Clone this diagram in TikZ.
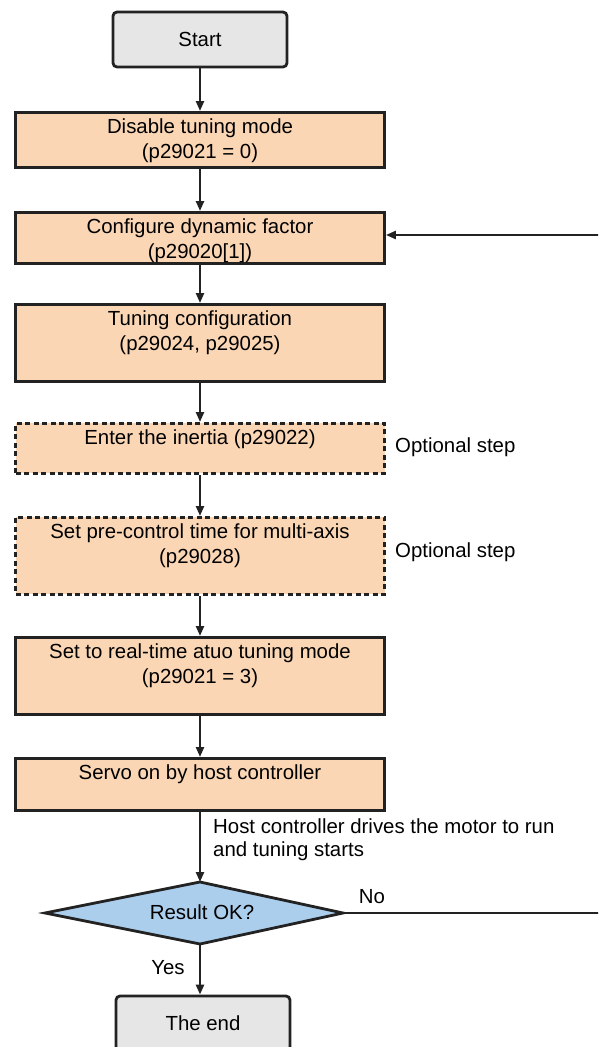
\documentclass[tikz,border=0pt]{standalone}
\usepackage{fontspec}
\setmainfont{Liberation Sans}
\usetikzlibrary{arrows.meta}
\definecolor{peach}{RGB}{251,214,181}
\definecolor{greyfill}{RGB}{230,230,230}
\definecolor{bluefill}{RGB}{172,206,237}
\definecolor{ink}{RGB}{34,34,34}
\newcommand{\btext}[2]{\parbox[c][#1][t]{369pt}{\centering\rule{0pt}{21pt}#2}}
\begin{document}
\begin{tikzpicture}[x=1pt,y=-1pt,font=\fontsize{20.4}{25}\selectfont,
  proc/.style={draw=ink,line width=2.8pt,fill=peach,inner sep=0pt,anchor=north},
  optproc/.style={proc,dash pattern=on 5pt off 3.5pt},
  term/.style={draw=ink,line width=2.8pt,fill=greyfill,rounded corners=4pt,minimum width=174pt,minimum height=55pt,inner sep=0pt},
  conn/.style={draw=ink,line width=2.4pt,-{Triangle[length=10pt,width=8pt]}},
  plainline/.style={draw=ink,line width=2.4pt},
  lbl/.style={inner sep=0pt}]
\useasboundingbox (0,0) rectangle (598,1047);
\clip (0,0) rectangle (598,1047);

\node[term] (start) at (200,39.5) {Start};
\node[proc] (disable) at (200,111) {\btext{55pt}{Disable tuning mode\\(p29021 = 0)}};
\node[proc] (config) at (200,211) {\btext{51pt}{Configure dynamic factor\\(p29020[1])}};
\node[proc] (tuning) at (200,303) {\btext{77pt}{Tuning configuration\\(p29024, p29025)}};
\node[optproc] (inertia) at (200,422) {\btext{50pt}{Enter the inertia (p29022)}};
\node[optproc] (precontrol) at (200,516) {\btext{77pt}{Set pre-control time for multi-axis\\(p29028)}};
\node[proc] (realtime) at (200,636) {\btext{77pt}{Set to real-time atuo tuning mode\\(p29021 = 3)}};
\node[proc] (servo) at (200,757) {\btext{52pt}{Servo on by host controller}};

\coordinate (dT) at (200,882);
\coordinate (dR) at (343,913);
\coordinate (dB) at (200,944);
\coordinate (dL) at (45,913);
\draw[draw=ink,line width=2.8pt,fill=bluefill] (dT) -- (dR) -- (dB) -- (dL) -- cycle;
\node[lbl] (dec) at (202,912) {Result OK?};

\node[term] (theend) at (203,1023.5) {The end};

\node[lbl,anchor=west] (opt1) at (395,447) {Optional step};
\node[lbl,anchor=west] (opt2) at (395,552) {Optional step};
\node[lbl,anchor=north west,align=left,font=\fontsize{20.4}{23}\selectfont] (host) at (213,819) {Host controller drives the motor to run\\and tuning starts};
\node[lbl] (no) at (372,897) {No};
\node[lbl] (yes) at (168,968) {Yes};

\draw[conn] (start.south) -- (disable.north);
\draw[conn] (disable.south) -- (config.north);
\draw[conn] (config.south) -- (tuning.north);
\draw[conn] (tuning.south) -- (inertia.north);
\draw[conn] (inertia.south) -- (precontrol.north);
\draw[conn] (precontrol.south) -- (realtime.north);
\draw[conn] (realtime.south) -- (servo.north);
\draw[conn] (servo.south) -- (dT);
\draw[conn] (dB) -- (dB |- theend.north);

\coordinate (fbin) at (602,235);
\draw[conn] (fbin) -- (fbin -| config.east);
\coordinate (noend) at (602,913);
\draw[plainline] (dR) -- (noend);
\end{tikzpicture}
\end{document}
